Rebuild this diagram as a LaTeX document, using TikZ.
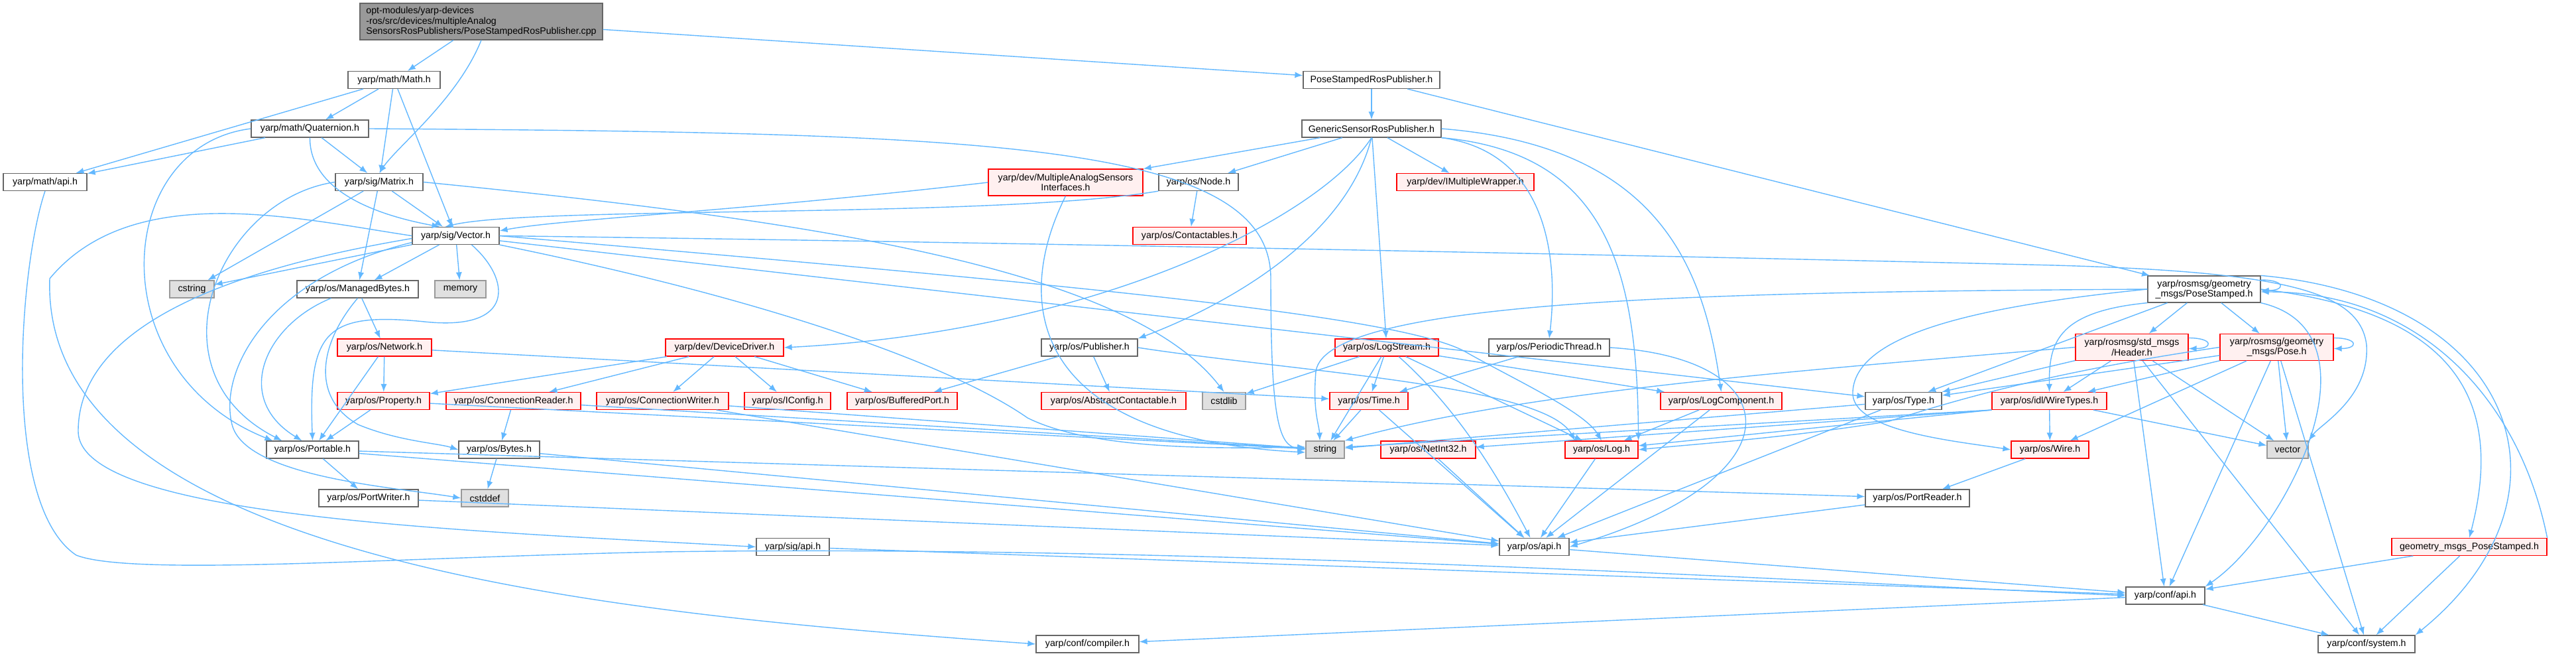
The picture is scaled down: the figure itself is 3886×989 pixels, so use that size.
\documentclass[tikz,border=0pt]{standalone}
\usepackage{fontspec}
\setmainfont{Liberation Sans}
\usetikzlibrary{arrows.meta}
\definecolor{edgeblue}{HTML}{63B8FF}
\definecolor{bgray}{HTML}{666666}
\definecolor{bred}{HTML}{FF0000}
\definecolor{fred}{HTML}{FFF0F0}
\definecolor{bext}{HTML}{999999}
\definecolor{fext}{HTML}{E0E0E0}
\definecolor{froot}{HTML}{999999}

\begin{document}
\begin{tikzpicture}[x=0.5pt,y=-0.5pt,
  every node/.append style={font=\fontsize{7.1}{7.6}\selectfont, text=black, inner sep=1.5pt},
  sz/.style={minimum width=#1*0.5pt},
  hdr/.style={draw=bgray, fill=white, line width=0.6pt, minimum height=13pt},
  hred/.style={draw=bred, fill=fred, line width=0.6pt, minimum height=13pt},
  hsys/.style={draw=bext, fill=fext, line width=0.6pt, minimum height=13pt},
  hroot/.style={draw=bgray, fill=froot, line width=0.6pt, minimum height=27.5pt, align=left},
  two/.style={minimum height=20pt, align=center},
  dep/.style={draw=edgeblue, line width=0.7pt, -{Latex[length=6pt,width=4.6pt]}},
]
\useasboundingbox (0,0) rectangle (3886,989);

% source file and direct includes
\node[hroot, sz=366] (cpp) at (726,32.5)
  {opt-modules/yarp-devices\\-ros/src/devices/multipleAnalog\\SensorsRosPublishers/PoseStampedRosPublisher.cpp};
\node[hdr, sz=139] (math) at (594.5,120.5) {yarp/math/Math.h};
\node[hdr, sz=177] (quat) at (467.5,194) {yarp/math/Quaternion.h};
\node[hdr, sz=126] (mathapi) at (68,274.5) {yarp/math/api.h};
\node[hdr, sz=132] (matrix) at (572,274.5) {yarp/sig/Matrix.h};
\node[hdr, sz=206] (psrp) at (2069,120.5) {PoseStampedRosPublisher.h};
\node[hdr, sz=210] (gsrp) at (2069,194) {GenericSensorRosPublisher.h};
\node[hred, sz=233, two] (masi) at (1607.5,275) {yarp/dev/MultipleAnalogSensors\\Interfaces.h};
\node[hdr, sz=120] (node) at (1808,274.5) {yarp/os/Node.h};
\node[hred, sz=207] (imw) at (2210.5,274.5) {yarp/dev/IMultipleWrapper.h};
% sig and os headers
\node[hdr, sz=131] (vec) at (687.5,355.5) {yarp/sig/Vector.h};
\node[hred, sz=171] (contactables) at (1794.5,355.5) {yarp/os/Contactables.h};
\node[hdr, sz=170, two] (pstamped) at (3325,436) {yarp/rosmsg/geometry\\\_msgs/PoseStamped.h};
\node[hsys, sz=67] (cstring) at (289.5,436) {cstring};
\node[hdr, sz=183] (managed) at (539.5,436) {yarp/os/ManagedBytes.h};
\node[hsys, sz=77] (memory) at (694.5,436) {memory};
\node[hred, sz=170, two] (header) at (3216,523.5) {yarp/rosmsg/std\_msgs\\/Header.h};
\node[hred, sz=171, two] (pose) at (3434.5,523.5) {yarp/rosmsg/geometry\\\_msgs/Pose.h};
\node[hred, sz=142] (network) at (580,524) {yarp/os/Network.h};
\node[hred, sz=178] (devdriver) at (1093,524) {yarp/dev/DeviceDriver.h};
\node[hdr, sz=145] (publisher) at (1643.5,524) {yarp/os/Publisher.h};
\node[hred, sz=156] (logstream) at (2092,524) {yarp/os/LogStream.h};
\node[hdr, sz=182] (periodic) at (2337,524) {yarp/os/PeriodicThread.h};
\node[hred, sz=139] (property) at (578.5,604.5) {yarp/os/Property.h};
\node[hred, sz=203] (connreader) at (774.5,604.5) {yarp/os/ConnectionReader.h};
\node[hred, sz=199] (connwriter) at (999.5,604.5) {yarp/os/ConnectionWriter.h};
\node[hred, sz=130] (iconfig) at (1188,604.5) {yarp/os/IConfig.h};
\node[hred, sz=166] (buffered) at (1361,604.5) {yarp/os/BufferedPort.h};
\node[hred, sz=218] (abscont) at (1680,604.5) {yarp/os/AbstractContactable.h};
\node[hsys, sz=65] (cstdlib) at (1846.5,604.5) {cstdlib};
\node[hred, sz=118] (time) at (2065,604.5) {yarp/os/Time.h};
\node[hred, sz=183] (logcomp) at (2596.5,604.5) {yarp/os/LogComponent.h};
\node[hdr, sz=115] (type) at (2871.5,604.5) {yarp/os/Type.h};
\node[hred, sz=173] (wiretypes) at (3091.5,604.5) {yarp/os/idl/WireTypes.h};
\node[hdr, sz=139] (portable) at (471.5,678) {yarp/os/Portable.h};
\node[hdr, sz=122] (bytes) at (753,678) {yarp/os/Bytes.h};
\node[hsys, sz=58] (string) at (1999,678) {string};
\node[hred, sz=143] (netint) at (2154.5,678) {yarp/os/NetInt32.h};
\node[hred, sz=110] (log) at (2416,678) {yarp/os/Log.h};
\node[hred, sz=117] (wire) at (3092.5,678) {yarp/os/Wire.h};
\node[hsys, sz=62] (stdvec) at (3451,678) {vector};
\node[hdr, sz=150] (portwriter) at (556,751) {yarp/os/PortWriter.h};
\node[hsys, sz=71] (cstddef) at (731.5,751) {cstddef};
\node[hdr, sz=157] (portreader) at (2892.5,751) {yarp/os/PortReader.h};
\node[hdr, sz=110] (sigapi) at (1196,824.5) {yarp/sig/api.h};
\node[hdr, sz=105] (osapi) at (2314.5,824.5) {yarp/os/api.h};
\node[hred, sz=234] (gmps) at (3725,824.5) {geometry\_msgs\_PoseStamped.h};
\node[hdr, sz=119] (confapi) at (3266.5,898) {yarp/conf/api.h};
\node[hdr, sz=155] (compiler) at (1640.5,971) {yarp/conf/compiler.h};
\node[hdr, sz=146] (system) at (3570,971) {yarp/conf/system.h};

% plain includes
\foreach \a/\c in {cpp/math, cpp/psrp, math/mathapi, math/quat, math/matrix, math/vec,
  quat/mathapi, quat/matrix, matrix/vec, matrix/cstring, matrix/managed,
  psrp/gsrp, psrp/pstamped, gsrp/masi, gsrp/node, gsrp/logstream, gsrp/imw,
  node/contactables, vec/cstring, vec/managed, vec/memory, vec/type,
  managed/network, network/property, network/portable, network/time, property/portable, property/string,
  devdriver/connwriter, devdriver/iconfig, devdriver/buffered, devdriver/property, devdriver/connreader,
  connreader/bytes, connreader/string, connwriter/string, connwriter/osapi,
  publisher/buffered, publisher/abscont,
  logstream/time, logstream/string, logstream/log, logstream/logcomp, logstream/cstdlib,
  periodic/time, time/string, time/osapi, logcomp/log, logcomp/osapi, type/osapi, type/string,
  portable/portwriter, portable/portreader, portable/osapi, bytes/cstddef, bytes/osapi, portwriter/osapi,
  netint/osapi, log/osapi, portreader/osapi, sigapi/confapi, osapi/confapi, confapi/compiler, confapi/system,
  pstamped/header, pstamped/pose, pstamped/type, header/wiretypes, header/type, header/stdvec,
  header/confapi, header/system, pose/wiretypes, pose/type, pose/stdvec, pose/wire,
  pose/confapi, pose/system, wiretypes/wire, wiretypes/stdvec, wire/portreader, gmps/confapi, gmps/system}
  \draw[dep] (\a) -- (\c);
\draw[dep] (wiretypes.south west) -- ([yshift=2pt]netint.east);
\draw[dep] (wiretypes.south west) -- ([yshift=3pt]log.east);
\draw[dep] (wiretypes.south west) -- ([yshift=2pt]string.east);

% long detours
\draw[dep] (cpp.south) .. controls (690,150) and (600,220) .. (matrix.north);
\draw[dep] (quat.east) .. controls (1500,200) and (1917,215) .. (1917,420)
  .. controls (1917,640) and (1930,672) .. (string.west);
\draw[dep] (quat.west) .. controls (170,220) and (150,560) .. ([xshift=5pt]portable.north west);
\draw[dep] (quat.south) .. controls (467,300) and (600,330) .. ([xshift=-12pt]vec.north);
\draw[dep] (matrix.west) .. controls (330,300) and (220,560) .. ([xshift=12pt]portable.north west);
\draw[dep] (matrix.east) .. controls (1200,330) and (1700,400) .. (cstdlib.north);
\draw[dep] (mathapi.south) .. controls (30,400) and (0,760) .. (115,837)
  .. controls (200,870) and (600,840) .. (1000,832) .. controls (1800,820) and (2800,880) .. (confapi.west);
\draw[dep] ([xshift=12pt]vec.south) .. controls (770,420) and (780,500) .. (640,485)
  .. controls (490,470) and (465,500) .. (portable.north);
\draw[dep] ([yshift=-2pt]vec.west) .. controls (380,400) and (118,480) .. (118,650)
  .. controls (118,780) and (700,800) .. (sigapi.west);
\draw[dep] (vec.west) .. controls (450,330) and (200,270) .. (75,420)
  .. controls (60,860) and (1000,930) .. (compiler.west);
\draw[dep] ([yshift=-5pt]vec.west) .. controls (400,420) and (330,560) .. (350,640)
  .. controls (370,720) and (600,735) .. (cstddef.west);
\draw[dep] (vec.east) .. controls (1500,420) and (2100,470) .. (2210,530)
  .. controls (2280,570) and (2390,620) .. (log.north);
\draw[dep] (vec.south east) .. controls (1200,460) and (1450,560) .. (1550,630)
  .. controls (1650,680) and (1850,676) .. ([yshift=2pt]string.west);
\draw[dep] (vec.east) .. controls (1500,365) and (2500,385) .. (3100,400)
  .. controls (3450,410) and (3560,440) .. (3570,520) .. controls (3575,600) and (3500,640) .. (stdvec.north east);
\draw[dep] ([xshift=-20pt]managed.south) .. controls (400,490) and (350,600) .. ([xshift=-8pt]portable.north);
\draw[dep] (managed.south) .. controls (480,520) and (470,600) .. (540,640)
  .. controls (600,665) and (660,668) .. (bytes.west);
\draw[dep] (node.south west) .. controls (1500,330) and (800,310) .. ([xshift=-8pt]vec.north);
\draw[dep] (masi.west) .. controls (1100,320) and (850,330) .. ([yshift=3.75pt]vec.east);
\draw[dep] (masi.south) .. controls (1530,450) and (1545,660) .. ([yshift=-2pt]string.west);
\draw[dep] (gsrp.south) .. controls (1990,330) and (1650,500) .. (devdriver.east);
\draw[dep] (gsrp.south) .. controls (2030,360) and (1850,460) .. (publisher.north east);
\draw[dep] (gsrp.south east) .. controls (2340,230) and (2350,400) .. (periodic.north);
\draw[dep] (gsrp.south east) .. controls (2420,230) and (2470,400) .. (log.north east);
\draw[dep] (gsrp.east) .. controls (2500,220) and (2570,400) .. (logcomp.north);
\draw[dep] (publisher.east) .. controls (1950,560) and (2330,580) .. ([xshift=-20pt]log.north);
\draw[dep] ([xshift=9pt]logstream.south) .. controls (2180,600) and (2240,680) .. ([xshift=-3pt]osapi.north);
\draw[dep] (periodic.east) .. controls (2700,540) and (2720,720) .. (osapi.east);
\draw[dep] (pstamped.west) .. controls (2600,440) and (2000,450) .. (1985,560)
  .. controls (1980,620) and (1990,640) .. ([xshift=-4pt]string.north);
\draw[dep] (pstamped.west) .. controls (3000,460) and (2800,500) .. (2795,590)
  .. controls (2790,650) and (2950,665) .. (wire.west);
\draw[dep] (header.west) .. controls (2700,560) and (2300,590) .. (string.north east);
\draw[dep] (pose.west) .. controls (3100,560) and (2960,600) .. (2850,635)
  .. controls (2700,660) and (2550,670) .. (log.east);
\draw[dep] (pstamped.south west) .. controls (3100,470) and (3091,520) .. (wiretypes.north);
\draw[dep] (pstamped.south east) .. controls (3600,500) and (3450,800) .. (confapi.north east);
\draw[dep] (pstamped.east) .. controls (3700,470) and (3780,600) .. (gmps.north);
\draw[dep] (gmps.north east) .. controls (3800,600) and (3650,440) .. ([yshift=-2pt]pstamped.east);
\draw[dep] (pstamped.north east) .. controls (3800,450) and (3900,750) .. (system.north east);
\draw[dep] ([yshift=7pt]pstamped.east) to[out=0,in=0,looseness=6] ([yshift=-1pt]pstamped.east);
\draw[dep] ([yshift=7pt]header.east) to[out=0,in=0,looseness=6] ([yshift=-1pt]header.east);
\draw[dep] ([yshift=7pt]pose.east) to[out=0,in=0,looseness=6] ([yshift=-1pt]pose.east);
\end{tikzpicture}
\end{document}
